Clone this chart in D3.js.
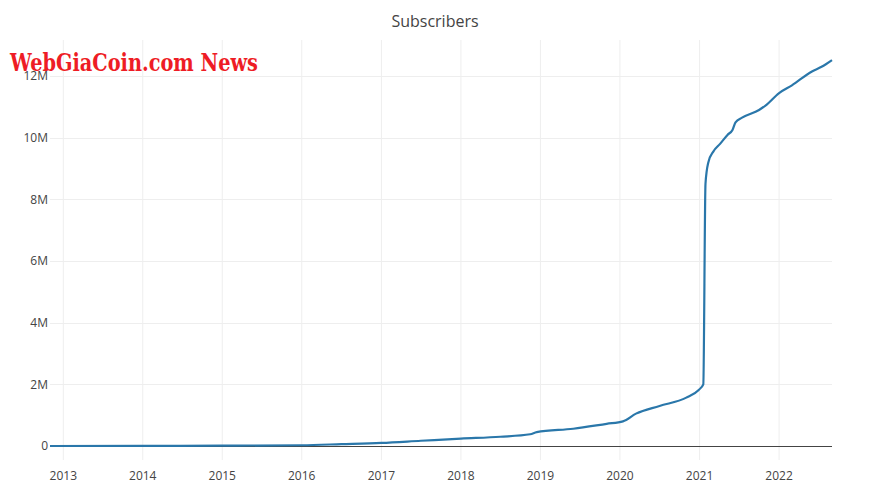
<!DOCTYPE html>
<html><head><meta charset="utf-8">
<script src="https://cdn.jsdelivr.net/npm/d3@7"></script>
<style>body{margin:0;background:#fff}svg{display:block}</style>
</head><body>
<svg id="c" width="874" height="484"></svg>
<script>
const dates = ["2012-11-01","2014-01-01","2015-01-01","2016-01-01","2016-07-01","2017-01-01","2017-07-01","2018-01-01","2018-07-01","2018-11-15","2018-12-15","2019-06-01","2019-11-01","2020-01-15","2020-03-15","2020-07-01","2020-11-01","2020-12-28","2021-01-18","2021-01-28","2021-02-10","2021-03-05","2021-04-05","2021-05-10","2021-06-01","2021-06-15","2021-07-15","2021-10-01","2021-11-01","2022-01-01","2022-03-01","2022-06-01","2022-07-15","2022-09-01"];
const subscribers = [0,0.004,0.01,0.025,0.06,0.1,0.17,0.24,0.3,0.38,0.45,0.56,0.72,0.8,1.05,1.3,1.57,1.82,2.0,8.5,9.2,9.55,9.8,10.1,10.25,10.5,10.65,10.9,11.05,11.45,11.7,12.15,12.3,12.52].map(v=>v*1e6);
const yTicks = [0,2e6,4e6,6e6,8e6,10e6,12e6];
const yTickLabels = ["0","2M","4M","6M","8M","10M","12M"];
const xTickYears = [2013,2014,2015,2016,2017,2018,2019,2020,2021,2022];
const title = "Subscribers";
const watermark = "WebGiaCoin.com News";

const parse = d3.timeParse("%Y-%m-%d");
const data = dates.map((d,i)=>({date:parse(d), v:subscribers[i]}));
const svg = d3.select("#c");
const L=50,R=832,T=40,B=460;
const x = d3.scaleTime().domain([parse("2012-11-01"), parse("2022-09-01")]).range([L,R]);
const y = d3.scaleLinear().domain([-0.454e6, 13.17e6]).range([B,T]);
const font = "'Open Sans', sans-serif";

// grid
svg.append("g").selectAll("line").data(xTickYears).join("line")
  .attr("x1",d=>x(new Date(d,0,1))).attr("x2",d=>x(new Date(d,0,1)))
  .attr("y1",T).attr("y2",B).attr("stroke","#eee").attr("stroke-width",1);
svg.append("g").selectAll("line").data(yTicks.slice(1)).join("line")
  .attr("x1",L).attr("x2",R).attr("y1",d=>Math.round(y(d))+0.5).attr("y2",d=>Math.round(y(d))+0.5)
  .attr("stroke","#eee").attr("stroke-width",1);
// zero line
svg.append("line").attr("x1",L).attr("x2",R).attr("y1",Math.round(y(0))+0.5).attr("y2",Math.round(y(0))+0.5)
  .attr("stroke","#444").attr("stroke-width",1);

// y labels
svg.append("g").selectAll("text").data(yTicks).join("text")
  .attr("x",L-2).attr("y",d=>y(d)).attr("dy","0.35em").attr("text-anchor","end")
  .attr("font-family",font).attr("font-size",12).attr("fill","#444")
  .text((d,i)=>yTickLabels[i]);
// x labels
svg.append("g").selectAll("text").data(xTickYears).join("text")
  .attr("x",d=>x(new Date(d,0,1))).attr("y",480).attr("text-anchor","middle")
  .attr("font-family",font).attr("font-size",12).attr("fill","#444")
  .text(d=>d);

// line
svg.append("path").datum(data)
  .attr("d",d3.line().x(d=>x(d.date)).y(d=>y(d.v)).curve(d3.curveMonotoneX))
  .attr("fill","none").attr("stroke","#2a77aa").attr("stroke-width",2.2).attr("stroke-linejoin","round");

// title
svg.append("text").attr("x",435).attr("y",27).attr("text-anchor","middle")
  .attr("font-family",font).attr("font-size",16).attr("fill","#444").text(title);

// watermark
svg.append("text").attr("x",10).attr("y",71)
  .attr("font-family","'DejaVu Serif', serif").attr("font-weight","bold").attr("font-size",25)
  .attr("fill","#ee1c25").attr("textLength",248).attr("lengthAdjust","spacingAndGlyphs")
  .text(watermark);
</script>
</body></html>
